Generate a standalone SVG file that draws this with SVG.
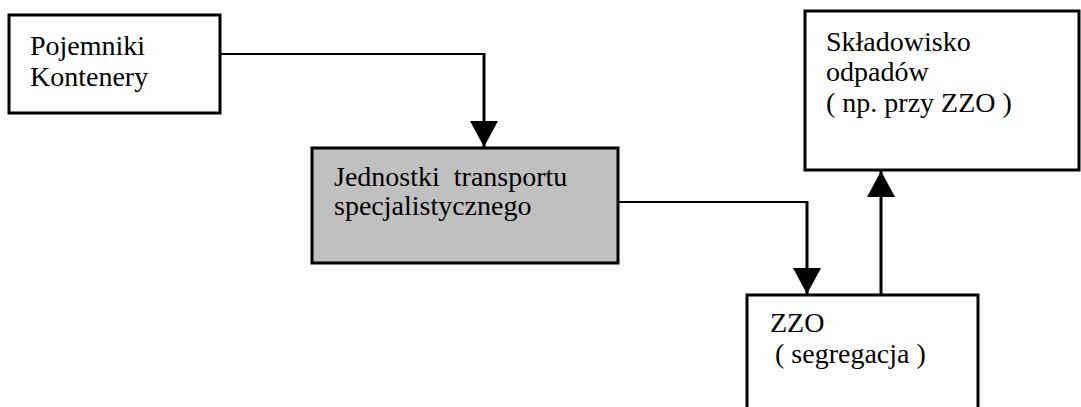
<svg xmlns="http://www.w3.org/2000/svg" width="1081" height="407" viewBox="0 0 1081 407">
<style>
.box{fill:#fff;stroke:#000;stroke-width:3}
.grey{fill:#c0c0c0;stroke:#000;stroke-width:3}
.t{font-family:"Liberation Serif","Times New Roman",serif;font-size:28px;fill:#000}
.h{fill:none;stroke:#000;stroke-width:2}
.v{fill:none;stroke:#000;stroke-width:3}
</style>
<defs>
<marker id="ah" viewBox="0 0 26 28" refX="26" refY="14" markerWidth="26" markerHeight="28" markerUnits="userSpaceOnUse" orient="auto">
<path d="M0,0 L26,14 L0,28 Z" fill="#000"/>
</marker>
</defs>
<rect width="1081" height="407" fill="#fff"/>
<g id="connectors">
<path class="h" d="M220,54 H484"/>
<path class="v" d="M484,53 V147" marker-end="url(#ah)"/>
<path class="h" d="M618,202 H807"/>
<path class="v" d="M807,201 V294" marker-end="url(#ah)"/>
<path class="v" d="M881,295 V171" marker-end="url(#ah)"/>
</g>
<g id="pojemniki">
<rect class="box" x="9" y="15" width="211" height="98"/>
<text class="t" x="30" y="55">Pojemniki</text>
<text class="t" x="30" y="86">Kontenery</text>
</g>
<g id="jednostki">
<rect class="grey" x="312" y="148" width="306" height="115"/>
<text class="t" x="334" y="186" xml:space="preserve">Jednostki  transportu</text>
<text class="t" x="334" y="215">specjalistycznego</text>
</g>
<g id="skladowisko">
<rect class="box" x="805" y="11" width="274" height="159"/>
<text class="t" x="826" y="51">Składowisko</text>
<text class="t" x="826" y="81">odpadów</text>
<text class="t" x="826" y="112">( np. przy ZZO )</text>
</g>
<g id="zzo">
<rect class="box" x="747" y="295" width="231" height="130"/>
<text class="t" x="770" y="332">ZZO</text>
<text class="t" x="775" y="363">( segregacja )</text>
</g>
</svg>
